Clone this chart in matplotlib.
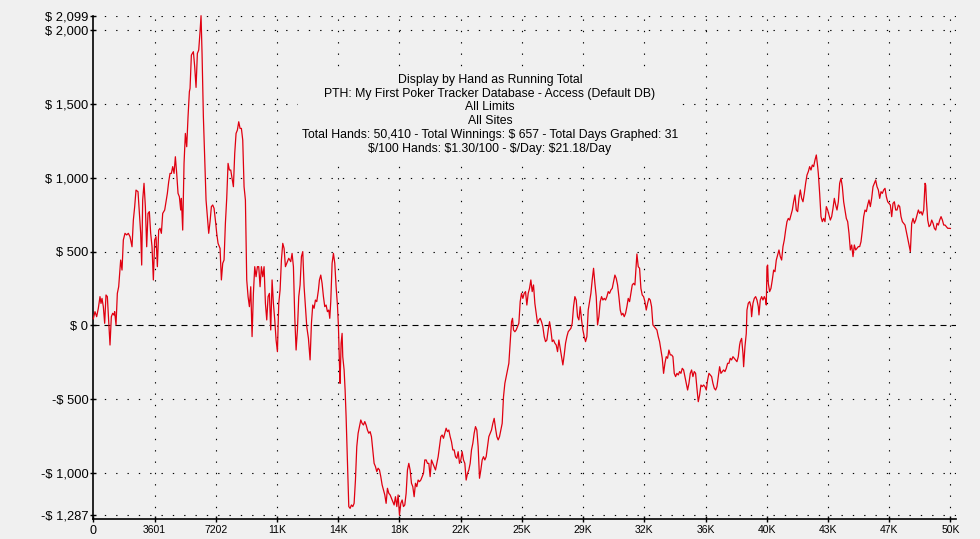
import matplotlib
matplotlib.use("Agg")
import matplotlib.pyplot as plt

plt.rcParams["font.family"] = ["Liberation Sans", "DejaVu Sans"]

# running total by hand number
hands = [0, 100, 198, 296, 394, 453, 512, 590, 669, 747, 826, 904, 983, 1061, 1140, 1218, 1257, 1336,
         1414, 1493, 1610, 1689, 1767, 1865, 1963, 2061, 2160, 2277, 2356, 2434, 2512, 2630, 2709, 2787,
         2846, 2905, 2983, 3062, 3140, 3218, 3297, 3375, 3454, 3532, 3611, 3689, 3768, 3846, 3925, 4003,
         4082, 4199, 4278, 4356, 4435, 4513, 4592, 4670, 4749, 4827, 4905, 4984, 5062, 5141, 5180, 5258,
         5337, 5415, 5494, 5572, 5651, 5690, 5768, 5886, 5964, 6043, 6121, 6200, 6278, 6337, 6396, 6474,
         6553, 6631, 6710, 6788, 6867, 6945, 7024, 7102, 7180, 7259, 7337, 7455, 7533, 7612, 7690, 7769,
         7847, 7926, 8004, 8083, 8161, 8240, 8318, 8396, 8475, 8553, 8632, 8710, 8789, 8867, 8946, 9024,
         9103, 9181, 9260, 9338, 9416, 9495, 9573, 9652, 9730, 9809, 9887, 9966, 10044, 10123, 10201,
         10280, 10358, 10436, 10515, 10593, 10672, 10750, 10829, 10907, 10986, 11064, 11143, 11221, 11300,
         11378, 11495, 11613, 11691, 11770, 11848, 11927, 12005, 12084, 12162, 12241, 12319, 12398, 12476,
         12555, 12653, 12750, 12829, 12907, 12986, 13064, 13143, 13241, 13300, 13378, 13456, 13535, 13613,
         13692, 13770, 13849, 13908, 13966, 14045, 14123, 14202, 14280, 14359, 14418, 14476, 14515, 14574,
         14633, 14672, 14751, 14810, 14868, 14947, 15026, 15104, 15182, 15261, 15339, 15418, 15496, 15575,
         15653, 15732, 15810, 15889, 15967, 16045, 16124, 16202, 16281, 16359, 16438, 16516, 16595, 16673,
         16751, 16830, 16908, 16987, 17065, 17144, 17222, 17300, 17379, 17457, 17536, 17614, 17693, 17771,
         17850, 17928, 18007, 18085, 18164, 18242, 18320, 18399, 18477, 18556, 18634, 18713, 18791, 18870,
         18948, 19027, 19105, 19183, 19262, 19340, 19419, 19497, 19576, 19654, 19733, 19811, 19890, 19968,
         20046, 20125, 20203, 20282, 20360, 20439, 20517, 20596, 20674, 20752, 20831, 20909, 20988, 21066,
         21145, 21223, 21302, 21380, 21459, 21537, 21615, 21694, 21772, 21851, 21929, 22008, 22086, 22165,
         22243, 22322, 22400, 22478, 22557, 22635, 22714, 22792, 22871, 22949, 23028, 23106, 23185, 23263,
         23342, 23420, 23499, 23577, 23655, 23734, 23812, 23891, 23969, 24048, 24126, 24205, 24283, 24361,
         24440, 24518, 24597, 24656, 24714, 24793, 24871, 24950, 25028, 25107, 25185, 25264, 25342, 25421,
         25499, 25577, 25656, 25734, 25813, 25891, 25970, 26048, 26127, 26205, 26284, 26362, 26440, 26519,
         26597, 26676, 26754, 26833, 26911, 26990, 27068, 27147, 27225, 27304, 27382, 27460, 27539, 27617,
         27696, 27774, 27853, 27931, 28010, 28088, 28166, 28245, 28323, 28402, 28480, 28559, 28637, 28716,
         28794, 28873, 28951, 29029, 29108, 29186, 29265, 29343, 29422, 29500, 29579, 29657, 29735, 29814,
         29892, 29971, 30049, 30128, 30206, 30285, 30363, 30442, 30520, 30598, 30677, 30755, 30834, 30912,
         30991, 31069, 31148, 31226, 31305, 31383, 31461, 31540, 31618, 31697, 31775, 31854, 31932, 31971,
         32050, 32128, 32207, 32285, 32364, 32442, 32521, 32599, 32677, 32756, 32834, 32913, 32991, 33070,
         33148, 33227, 33305, 33384, 33462, 33540, 33619, 33697, 33776, 33854, 33933, 34011, 34090, 34168,
         34247, 34325, 34404, 34482, 34560, 34639, 34717, 34796, 34874, 34953, 35031, 35110, 35188, 35266,
         35345, 35423, 35502, 35580, 35659, 35737, 35816, 35894, 35973, 36051, 36129, 36208, 36286, 36365,
         36443, 36522, 36600, 36679, 36757, 36836, 36914, 36992, 37071, 37149, 37228, 37306, 37385, 37463,
         37542, 37620, 37698, 37777, 37855, 37934, 38012, 38052, 38130, 38208, 38248, 38326, 38404, 38444,
         38522, 38601, 38679, 38718, 38797, 38875, 38954, 39032, 39111, 39150, 39228, 39307, 39385, 39464,
         39542, 39581, 39620, 39660, 39699, 39777, 39856, 39934, 40013, 40091, 40169, 40248, 40326, 40405,
         40483, 40562, 40640, 40719, 40797, 40876, 40954, 41033, 41111, 41189, 41268, 41346, 41425, 41503,
         41582, 41660, 41739, 41817, 41895, 41974, 42052, 42131, 42209, 42288, 42366, 42445, 42523, 42602,
         42641, 42719, 42798, 42876, 42955, 43033, 43112, 43190, 43268, 43347, 43425, 43504, 43582, 43661,
         43739, 43818, 43896, 43975, 44053, 44131, 44210, 44288, 44367, 44445, 44524, 44602, 44681, 44759,
         44838, 44916, 44994, 45073, 45151, 45230, 45308, 45387, 45465, 45544, 45622, 45700, 45779, 45857,
         45936, 46014, 46093, 46171, 46250, 46328, 46407, 46485, 46563, 46642, 46720, 46799, 46877, 46956,
         47034, 47113, 47191, 47270, 47348, 47427, 47505, 47583, 47662, 47740, 47819, 47897, 47976, 48054,
         48133, 48211, 48290, 48368, 48446, 48525, 48603, 48682, 48760, 48839, 48917, 48956, 48996, 49074,
         49153, 49231, 49310, 49388, 49466, 49545, 49623, 49702, 49780, 49859, 49937, 50016, 50094, 50173,
         50251, 50330, 50410]
winnings = [45, 93, 59, 116, 195, 149, 183, 127, 14, 206, 195, 37, -133, 59, 82, 70, 93, 3,
            217, 262, 443, 375, 579, 624, 613, 624, 601, 533, 714, 805, 917, 906, 759, 624,
            409, 850, 963, 805, 533, 759, 771, 624, 533, 308, 579, 601, 398, 646, 658, 624,
            759, 782, 838, 895, 974, 1030, 1030, 1076, 1030, 1143, 1030, 895, 872, 782, 861, 646,
            1098, 1301, 1211, 1414, 1584, 1606, 1832, 1855, 1753, 1613, 1843, 1866, 1990, 2099, 1843, 1414,
            1121, 850, 737, 624, 703, 805, 816, 793, 714, 624, 556, 522, 308, 421, 443, 692,
            861, 1098, 1053, 1053, 997, 940, 1166, 1301, 1324, 1380, 1335, 1335, 1256, 940, 850, 308,
            195, 127, 262, -76, 217, 398, 330, 398, 398, 262, 398, 330, 398, 149, 37,
            195, 217, -31, 308, 149, 37, -99, -178, 149, 240, 443, 556, 522, 398,
            421, 455, 432, 488, 398, 59, -167, -31, 195, 274, 466, 500, 262, 127,
            -9, -88, -234, 14, 138, 116, 172, 161, 240, 308, 341, 285, 195, 127,
            138, 93, 104, 48, 161, 421, 488, 421, 262, 138, -9, -257, -393, -121,
            -54, -212, -302, -438, -618, -935, -1228, -1240, -1217, -1228, -1206, -1048, -822, -731,
            -686, -641, -664, -675, -652, -675, -709, -731, -720, -754, -844, -935, -957, -991,
            -968, -980, -1025, -1081, -1115, -1149, -1206, -1104, -1138, -1149, -1172, -1194, -1217, -1161,
            -1228, -1149, -1287, -1206, -1183, -1228, -1217, -1138, -980, -935, -980, -1070, -1093, -1161,
            -1070, -1093, -1048, -1059, -1048, -1025, -1003, -912, -912, -935, -935, -1025, -912, -935,
            -957, -980, -935, -890, -822, -754, -743, -765, -731, -697, -720, -709, -754, -788,
            -844, -844, -890, -901, -856, -935, -912, -856, -912, -935, -1048, -1003, -980, -935,
            -844, -799, -731, -686, -709, -822, -1036, -980, -912, -890, -912, -890, -822, -754,
            -731, -709, -664, -630, -697, -754, -776, -754, -709, -664, -483, -393, -348, -302,
            -257, -121, 25, 48, -31, -43, -31, -9, 14, 161, 217, 183, 217, 229,
            138, 217, 251, 308, 229, 274, 149, 82, 14, 37, 48, 25, -9, -76,
            -110, -99, -31, 25, -31, -110, -99, -121, -133, -178, -99, -155, -212, -268,
            -200, -121, -76, -43, -31, -20, 14, 127, 195, 172, 59, 37, 127, 37,
            -31, -76, -110, -76, 104, 161, 217, 308, 387, 285, 195, 3, 59, 161,
            195, 172, 183, 172, 195, 229, 217, 240, 251, 296, 341, 319, 274, 195,
            104, 70, 82, 59, 82, 127, 183, 161, 217, 274, 285, 274, 420, 484,
            398, 387, 251, 206, 195, 161, 104, 149, 183, 172, 127, 3, -9, -20,
            -31, -76, -110, -167, -223, -325, -257, -212, -223, -167, -200, -200, -212, -325,
            -347, -325, -336, -313, -325, -291, -302, -347, -393, -438, -393, -325, -302, -347,
            -313, -325, -426, -517, -472, -404, -415, -404, -415, -438, -370, -325, -336, -347,
            -393, -426, -438, -415, -347, -280, -325, -313, -302, -313, -291, -257, -257, -223,
            -234, -212, -223, -234, -246, -212, -133, -110, -88, -189, -280, -144, -54, 104,
            150, 161, 127, 59, 150, 183, 195, 172, 127, 71, 172, 195, 172, 195,
            172, 138, 398, 409, 285, 229, 251, 308, 375, 364, 443, 477, 511, 466,
            443, 534, 579, 646, 703, 725, 714, 748, 782, 838, 884, 782, 771, 861,
            918, 861, 838, 895, 963, 1019, 1042, 1076, 1053, 1087, 1076, 1121, 1155, 1076,
            1030, 895, 737, 703, 725, 703, 805, 782, 748, 714, 737, 793, 861, 816,
            782, 838, 963, 997, 940, 838, 782, 725, 703, 624, 511, 545, 466, 545,
            511, 522, 534, 534, 567, 646, 737, 782, 771, 816, 850, 805, 861, 940,
            963, 985, 940, 918, 861, 906, 895, 918, 929, 872, 838, 827, 816, 737,
            827, 838, 782, 782, 816, 805, 737, 703, 692, 680, 635, 590, 545, 500,
            692, 725, 692, 714, 748, 782, 759, 771, 748, 782, 963, 951, 850, 714,
            669, 680, 714, 692, 658, 646, 692, 680, 714, 737, 714, 680, 680, 669,
            658, 658, 657]

total_hands = 50410
x_ticks = [total_hands * i / 14 for i in range(15)]
x_labels = ["0", "3601", "7202", "11K", "14K", "18K", "22K", "25K", "29K", "32K",
            "36K", "40K", "43K", "47K", "50K"]
y_ticks = [2099, 2000, 1500, 1000, 500, 0, -500, -1000, -1287]
y_labels = ["$ 2,099", "$ 2,000", "$ 1,500", "$ 1,000", "$ 500", "$ 0",
            "-$ 500", "-$ 1,000", "-$ 1,287"]

info_lines = [
    "Display by Hand as Running Total",
    "PTH: My First Poker Tracker Database - Access (Default DB)",
    "All Limits",
    "All Sites",
    "Total Hands: 50,410 - Total Winnings: $ 657 - Total Days Graphed: 31",
    "$/100 Hands: $1.30/100 - $/Day: $21.18/Day",
]

bg = "#f0f0f0"
fig = plt.figure(figsize=(9.8, 5.39), dpi=100, facecolor=bg)
ax = fig.add_axes([0.0952, 0.0366, 0.8803, 0.9343])
ax.set_facecolor(bg)

# grid: dotted everywhere, dashed zero line
for xv in x_ticks[1:]:
    ax.axvline(xv, color="black", lw=0.8, ls=(0, (1.2, 9)), zorder=1)
for yv in y_ticks:
    if yv == 0:
        ax.axhline(yv, color="black", lw=0.8, ls=(0, (5.4, 4.5)), zorder=1)
    else:
        ax.axhline(yv, color="black", lw=0.8, ls=(0, (1.2, 9)), zorder=1)

ax.plot(hands, winnings, color="#e00010", lw=0.9, zorder=3, clip_on=False)

ax.set_xlim(0, total_hands * 1.0065)
ax.set_ylim(-1314, 2099)
ax.set_xticks(x_ticks)
ax.set_xticklabels(x_labels, fontsize=7.5)
ax.get_xticklabels()[0].set_fontsize(9)
ax.set_yticks(y_ticks)
ax.set_yticklabels(y_labels, fontsize=9.3)
ax.tick_params(axis="both", direction="inout", length=5, width=1, colors="black")
ax.tick_params(axis="y", pad=1)
ax.tick_params(axis="x", pad=1.5)

for side in ["top", "right"]:
    ax.spines[side].set_visible(False)
for side in ["left", "bottom"]:
    ax.spines[side].set_linewidth(1.2)

# info block sits on a plain box that hides the grid behind it
fig.text(0.5, 0.788, "\n".join(info_lines), ha="center", va="center",
         fontsize=8.8, linespacing=1.2, color="black", parse_math=False,
         zorder=5, bbox=dict(facecolor=bg, edgecolor="none", boxstyle="square,pad=0.3"))

fig.savefig("out.png", dpi=100, facecolor=bg)
